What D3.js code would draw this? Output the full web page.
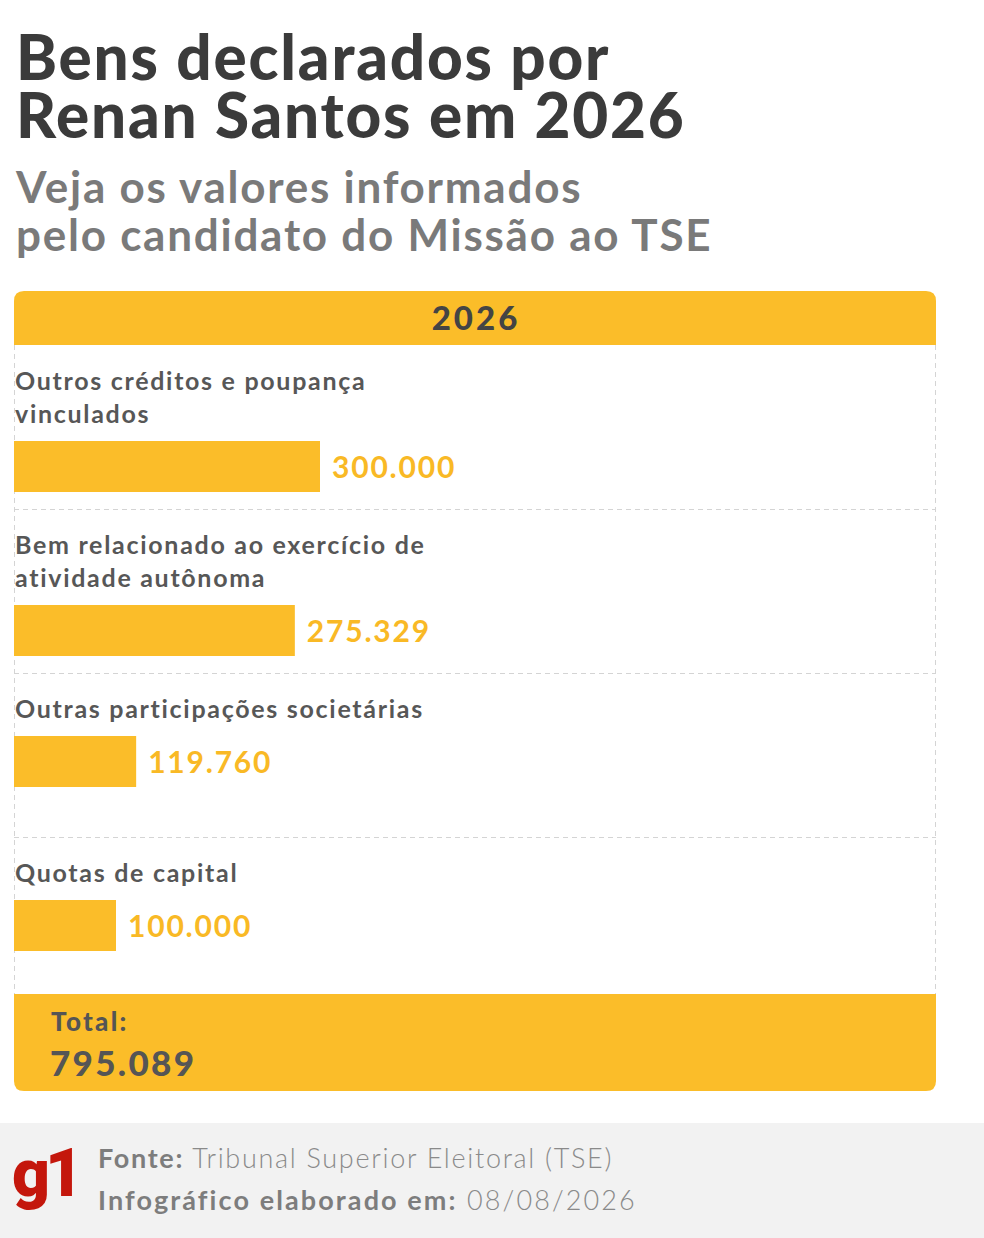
<!DOCTYPE html>
<html lang="pt-BR">
<head>
<meta charset="UTF-8">
<title>Bens declarados por Renan Santos em 2026</title>
<script src="https://d3js.org/d3.v7.min.js"></script>
<style>
    body { margin: 0; background: #ffffff; }
    svg { display: block; font-family: Lato, 'Open Sans', sans-serif; }
</style>
</head>
<body>
<div id="chart"></div>
<script>
    const categories = [
        "Outros créditos e poupança\nvinculados",
        "Bem relacionado ao exercício de\natividade autônoma",
        "Outras participações societárias",
        "Quotas de capital"
    ];
    const values = [300000, 275329, 119760, 100000];
    const year = "2026";
    const titleLines = ["Bens declarados por", "Renan Santos em 2026"];
    const subtitleLines = ["Veja os valores informados", "pelo candidato do Missão ao TSE"];
    const footerSource = ["Fonte:", " Tribunal Superior Eleitoral (TSE)"];
    const footerDate = ["Infográfico elaborado em:", " 08/08/2026"];

    const width = 984, height = 1238;
    const yellow = "#fbbd29";
    const left = 14, right = 936;

    const ptBR = d3.formatLocale({ decimal: ",", thousands: ".", grouping: [3], currency: ["R$", ""] });
    const fmt = ptBR.format(",");

    const svg = d3.select("#chart").append("svg")
        .attr("width", width).attr("height", height);

    // título
    svg.append("text")
        .attr("fill", "#3b3b3b")
        .attr("font-size", 62).attr("font-weight", 900)
        .attr("letter-spacing", 1.8)
        .selectAll("tspan")
        .data(titleLines).join("tspan")
        .attr("x", 16).attr("y", (d, i) => 80 + i * 58)
        .text(d => d);

    svg.append("text")
        .attr("fill", "#7a7a7a")
        .attr("font-size", 44).attr("font-weight", 700)
        .attr("letter-spacing", 1.75)
        .selectAll("tspan")
        .data(subtitleLines).join("tspan")
        .attr("x", 16).attr("y", (d, i) => 203 + i * 48)
        .text(d => d);

    // escalas
    const x = d3.scaleLinear().domain([0, d3.max(values)]).range([0, 306]);
    const y = d3.scaleBand().domain(categories).range([345, 1001]);

    // cabeçalho
    const hTop = 291, hBot = 345, r = 10;
    svg.append("path")
        .attr("d", `M${left},${hBot} V${hTop + r} Q${left},${hTop} ${left + r},${hTop} H${right - r} Q${right},${hTop} ${right},${hTop + r} V${hBot} Z`)
        .attr("fill", yellow);
    svg.append("text")
        .attr("x", (left + right) / 2 + 1).attr("y", 330)
        .attr("text-anchor", "middle")
        .attr("fill", "#444").attr("font-size", 33).attr("font-weight", 900)
        .attr("letter-spacing", 3)
        .text(year);

    // bordas tracejadas
    const dash = "5,4", gridColor = "#d4d4d4";
    svg.append("g").selectAll("line")
        .data([left + 0.5, right - 0.5]).join("line")
        .attr("x1", d => d).attr("x2", d => d)
        .attr("y1", hBot).attr("y2", 994)
        .attr("stroke", gridColor).attr("stroke-dasharray", dash);
    svg.append("g").selectAll("line")
        .data(categories.slice(1)).join("line")
        .attr("x1", left).attr("x2", right)
        .attr("y1", d => Math.round(y(d)) + 0.5).attr("y2", d => Math.round(y(d)) + 0.5)
        .attr("stroke", gridColor).attr("stroke-dasharray", dash);

    // linhas
    const row = svg.append("g").selectAll("g")
        .data(categories.map((c, i) => ({ cat: c, value: values[i], lines: c.split("\n") })))
        .join("g")
        .attr("transform", d => `translate(0,${y(d.cat)})`);

    row.append("text")
        .attr("fill", "#575757").attr("font-size", 25).attr("font-weight", 700)
        .attr("letter-spacing", 1.7)
        .selectAll("tspan")
        .data(d => d.lines).join("tspan")
        .attr("x", 15).attr("y", (d, i) => 45 + i * 33)
        .text(d => d);

    const barTop = d => 45 + (d.lines.length - 1) * 33 + 18;
    const barH = 51;

    row.append("rect")
        .attr("x", left)
        .attr("y", barTop)
        .attr("width", d => x(d.value))
        .attr("height", barH)
        .attr("fill", yellow);

    row.append("text")
        .attr("x", d => left + x(d.value) + 12)
        .attr("y", d => barTop(d) + barH / 2 + 11)
        .attr("fill", "#f9b925").attr("font-size", 30).attr("font-weight", 700)
        .attr("letter-spacing", 1.8)
        .text(d => fmt(d.value));

    // total
    const tTop = 994, tBot = 1091;
    svg.append("path")
        .attr("d", `M${left},${tTop} H${right} V${tBot - r} Q${right},${tBot} ${right - r},${tBot} H${left + r} Q${left},${tBot} ${left},${tBot - r} Z`)
        .attr("fill", yellow);
    svg.append("text")
        .attr("x", 51).attr("y", 1031)
        .attr("fill", "#555").attr("font-size", 26).attr("font-weight", 900)
        .attr("letter-spacing", 2.3)
        .text("Total:");
    svg.append("text")
        .attr("x", 50).attr("y", 1076)
        .attr("fill", "#555").attr("font-size", 35).attr("font-weight", 900)
        .attr("letter-spacing", 2.3)
        .text(fmt(d3.sum(values)));

    // rodapé
    svg.append("rect")
        .attr("x", 0).attr("y", 1123)
        .attr("width", width).attr("height", height - 1123)
        .attr("fill", "#f2f2f2");
    svg.append("text")
        .attr("x", 12).attr("y", 1196)
        .attr("fill", "#c4170c").attr("font-size", 66).attr("font-weight", 900)
        .attr("font-family", "Roboto, sans-serif")
        .attr("letter-spacing", -5)
        .text("g1");

    const foot = svg.append("g").selectAll("text")
        .data([footerSource, footerDate]).join("text")
        .attr("x", 98).attr("y", (d, i) => 1168 + i * 42)
        .attr("font-size", 27).attr("fill", "#7d7d7d")
        .attr("letter-spacing", (d, i) => i === 0 ? 1.7 : 2.1);
    foot.append("tspan").attr("font-weight", 700).text(d => d[0]);
    foot.append("tspan").attr("font-weight", 300).attr("fill", "#8a8a8a").text(d => d[1]);
</script>
</body>
</html>
